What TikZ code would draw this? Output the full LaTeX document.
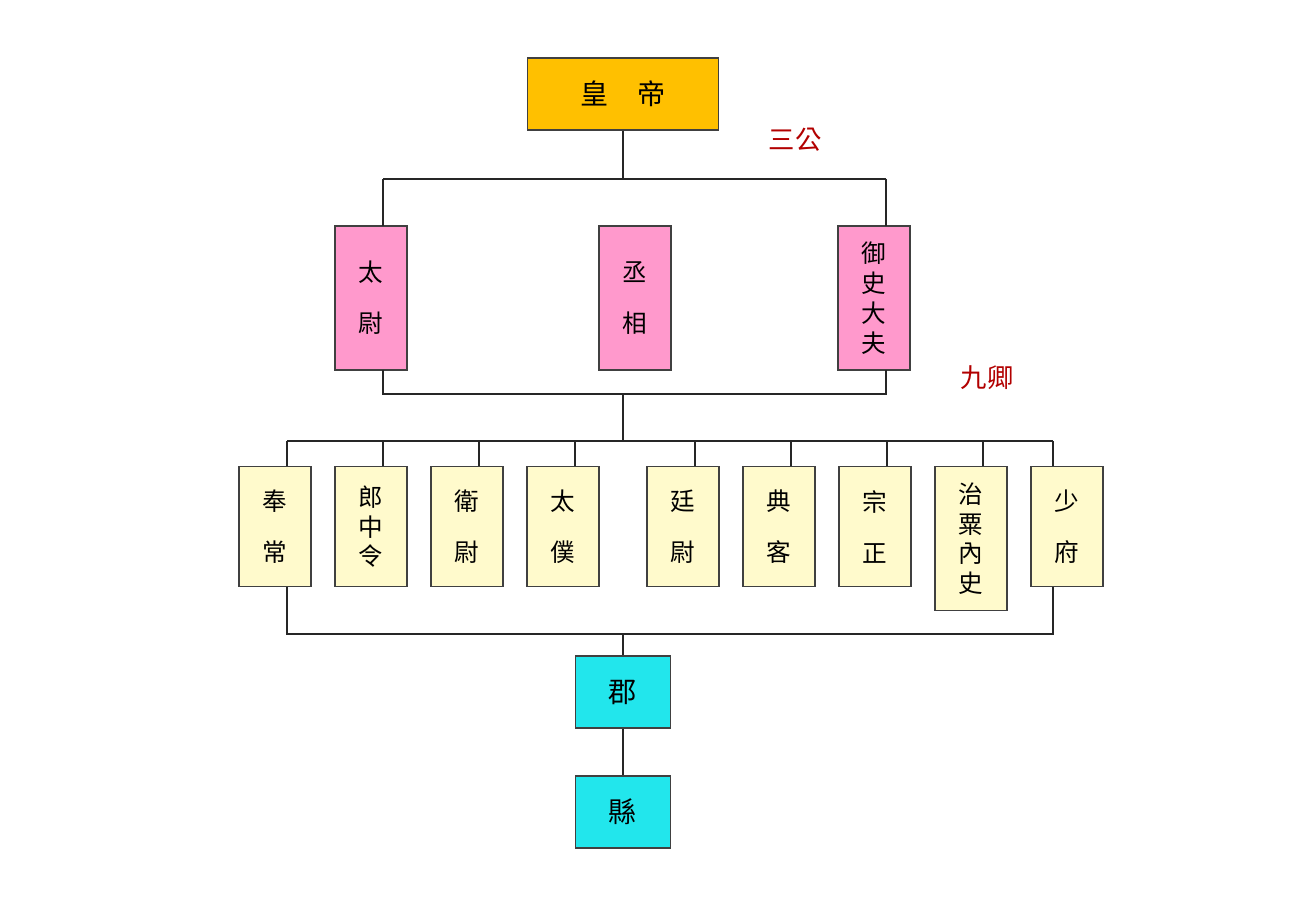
\documentclass[tikz,border=0pt]{standalone}
\usepackage{fontspec}
\newfontfamily\cjk{Noto Sans CJK TC}
\definecolor{gold}{HTML}{FFC000}
\definecolor{rose}{HTML}{FF99CC}
\definecolor{cream}{HTML}{FFFACC}
\definecolor{aqua}{HTML}{22E6EC}
\begin{document}
\begin{tikzpicture}[x=0.02cm,y=-0.02cm,
		box/.style={draw=black!75,thick,minimum width=1.44cm,font=\cjk\fontsize{14}{17}\selectfont,align=center,inner sep=0pt},
		gong/.style={box,fill=rose,minimum height=2.88cm},
		qing/.style={box,fill=cream,minimum height=2.4cm,anchor=north},
		jun/.style={box,fill=aqua,minimum width=1.9cm,minimum height=1.44cm,font=\cjk\fontsize{16}{18}\selectfont},
		tag/.style={text=red!70!black,font=\cjk\fontsize{15}{17}\selectfont},
		link/.style={draw=black!85,thick}]
		\useasboundingbox (0,0) rectangle (1304,908);
		\fill[white] (0,0) rectangle (1304,908);
		
		\node[box,fill=gold,minimum width=3.82cm,minimum height=1.44cm,font=\cjk\fontsize{16}{18}\selectfont] (huangdi) at (623,94) {皇\quad 帝};
		\node[tag] (sangong) at (795,140) {三公};
		\node[tag] (jiuqing) at (987,378) {九卿};
		
		\node[gong] (taiwei) at (371,298) {太\\[12pt]尉};
		\node[gong] (chengxiang) at (635,298) {丞\\[12pt]相};
		\node[gong] (yushi) at (874,298) {御\\史\\大\\夫};
		
		% the three lords
		\coordinate (top) at (623,179);
		\draw[link] (huangdi.south) -- (top);
		\draw[link] (383,179) -- (886,179);
		\draw[link] (383,179) -- (383,226);
		\draw[link] (886,179) -- (886,226);
		\draw[link] (383,370) -- (383,394) -- (886,394) -- (886,370);
		\coordinate (mid) at (623,394);
		\coordinate (bar) at (623,441);
		\draw[link] (mid) -- (bar);
		\draw[link] (287,441) -- (1053,441);
		
		% the nine ministers
		\foreach \x/\d/\h/\l/\n in {275/12/2.4/奉\\[12pt]常/fengchang, 371/12/2.4/郎\\中\\令/langzhong, 467/12/2.4/衛\\[12pt]尉/weiwei,
			563/12/2.4/太\\[12pt]僕/taipu, 683/12/2.4/廷\\[12pt]尉/tingwei, 779/12/2.4/典\\[12pt]客/dianke,
			875/12/2.4/宗\\[12pt]正/zongzheng, 971/12/2.88/治\\粟\\內\\史/zhisu, 1067/-14/2.4/少\\[12pt]府/shaofu}{
			\node[qing,minimum height=\h cm] (\n) at (\x,466) {\l};
			\draw[link] ({\x+\d},441) -- (\n.north-|{\x+\d},0);
		}
		\draw[link] (fengchang.south-|287,0) -- (287,634) -- (1053,634) -- (shaofu.south-|1053,0);
		
		% commandery and county
		\node[jun] (jun) at (623,692) {郡};
		\node[jun] (xian) at (623,812) {縣};
		\draw[link] (623,634) -- (jun.north);
		\draw[link] (jun) -- (xian);
	\end{tikzpicture}
\end{document}
